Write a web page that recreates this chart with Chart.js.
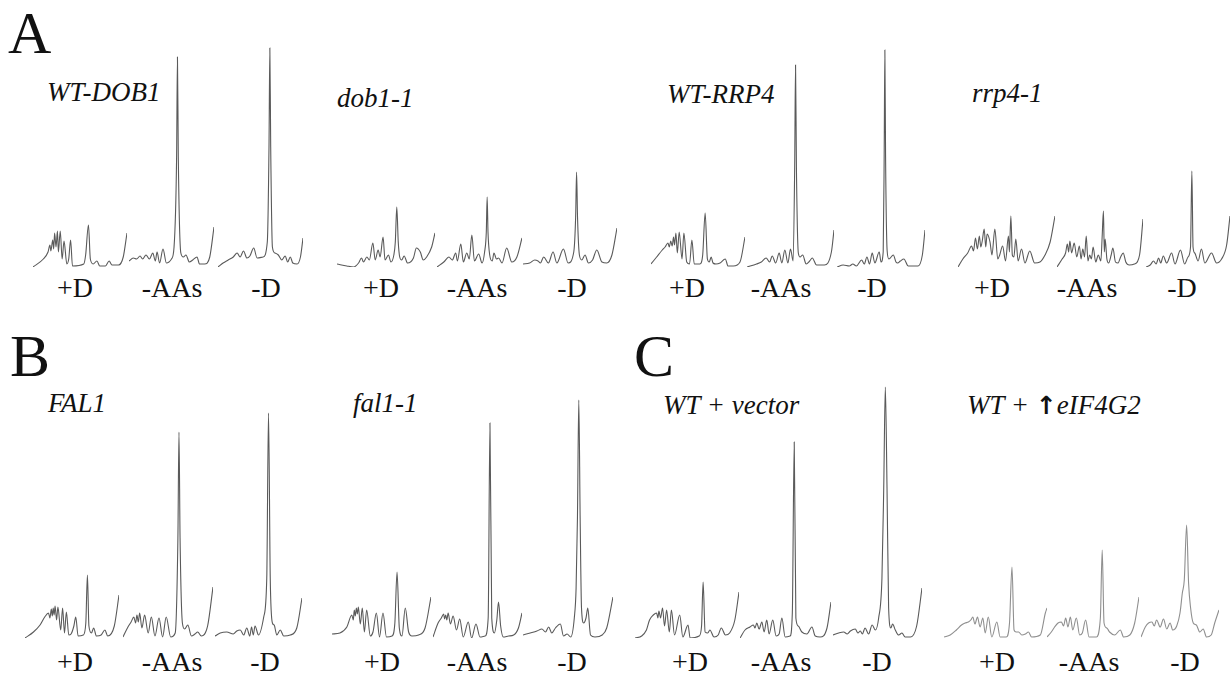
<!DOCTYPE html>
<html><head><meta charset="utf-8">
<script src="https://cdn.jsdelivr.net/npm/chart.js@4.4.1/dist/chart.umd.min.js"></script>
<style>
html,body{margin:0;padding:0;background:#fff;width:1232px;height:675px;overflow:hidden;position:relative;}
canvas{position:absolute;}
.t{position:absolute;line-height:1;white-space:nowrap;color:#111;font-family:"Liberation Serif","Times New Roman",Times,"Nimbus Roman","DejaVu Serif",serif;}
</style></head><body>
<script>
// ---- Polysome profiles: [gradient position (0-100), A254 (arbitrary units)] ----
const conditions = ['+D', '-AAs', '-D'];
const panelNames = ['WT-DOB1', 'dob1-1', 'WT-RRP4', 'rrp4-1', 'FAL1', 'fal1-1', 'WT + vector', 'WT + \u2191eIF4G2'];

// A: WT-DOB1
const wtDob1PlusD = [[0,0],[11,8],[16,15],[18,22],[19,16],[21,27],[22,18],[23,34],[24.5,20],[26,36],[27,15],[29,36],[31,8],[33,26],[36,3],[38,8],[40,27],[42,1],[54,3],[56,12],[59,42],[61,8],[64,3],[68,6],[71,1],[77,1],[81,6],[84,2],[91,2],[96,10],[100,34]];
const wtDob1MinusAA = [[0,6],[5,9],[9,8],[13,11],[16,8],[20,12],[24,8],[28,14],[31,6],[33,15],[36,4],[40,18],[44,4],[50,8],[53,20],[56,110],[57,210],[58,110],[61,14],[64,10],[67,12],[71,5],[75,7],[80,10],[83,3],[89,3],[95,10],[100,40]];
const wtDob1MinusD = [[0,0],[6,4],[12,7],[18,10],[22.5,14],[26,10],[30,16],[34,9],[37.5,11],[42,19],[46,9],[53,10],[58,25],[60,120],[61,219],[62,120],[64,20],[67,14],[71,12],[75,7],[79,11],[82,5],[85,10],[88,4],[93,3],[97,10],[100,29]];
// A: dob1-1
const dob1PlusD = [[0,3],[10,1],[17,0],[22,4],[25,9],[27,5],[30.5,10],[33,7],[36.6,24],[39,7],[42,17],[44,10],[47,30],[49,7],[52.5,12],[55,5],[58,12],[59.5,25],[61,60],[62.5,25],[64,10],[66,7],[68.5,11],[72,4],[78,9],[81,19],[85,15],[88,7],[91.5,10],[96.6,20],[100,34]];
const dob1MinusAA = [[0,0],[8,5],[14,10],[18,7],[22,14],[24,6],[28,23],[31,5],[35,14],[38,8],[41,32],[44,6],[49,13],[53,4],[56,15],[58,35],[59,70],[60,35],[62,12],[65,6],[67,14],[70,8],[72.5,9],[76.5,4],[82,19],[88,5],[94,10],[100,29]];
const dob1MinusD = [[0,3],[7,4],[12.5,7],[16,6],[18.5,4],[22,10],[27,4],[32,15],[36,4],[43,18],[48,4],[54,15],[56,50],[57,95],[58,50],[60,12],[62.5,7],[66,12],[69.6,4],[74,7],[78.5,17],[84,5],[89,4],[94.6,12],[100,39]];
// A: WT-RRP4
const wtRrp4PlusD = [[0,3],[6,10],[12,17],[15,20],[18,24],[19.5,20],[21,26],[22.5,21],[24,30],[25,22],[26.5,34],[28,14],[30,35],[33,8],[35,34],[38,5],[41,3],[43.5,27],[46,3],[52,3],[55,12],[57.6,54],[60,8],[62,5],[64,10],[66,4],[69,3],[73.5,4],[79,8],[82,1],[87.6,1],[94.7,5],[100,30]];
const wtRrp4MinusAA = [[0,0],[11,3],[16.5,5],[22,9],[26,5],[29,11],[33,4],[37,14],[40,4],[43.5,17],[47,4],[50,18],[53,6],[54.8,100],[55.8,202],[56.8,100],[59,14],[61,10],[64,12],[68,3],[72,6],[75,9],[80,2],[89,2],[97,15],[100,37]];
const wtRrp4MinusD = [[0,0],[7,2],[14,1],[18,3],[22,1],[28,7],[31,3],[34,10],[37,3],[40,14],[43,4],[48,15],[50,5],[52.5,15],[53.6,110],[54.4,217],[55.2,110],[57,16],[59,8],[64,12],[67,5],[69,4],[72,6],[76,8],[81,1],[92,1],[97,12],[100,37]];
// A: rrp4-1
const rrp4PlusD = [[0,0],[5,8],[10,14],[14,21],[16,16],[18,29],[20,18],[22,31],[23.5,20],[25,26],[27,38],[28.6,20],[30,33],[33,25],[35,12],[38,38],[41,8],[43,12],[46,21],[49,6],[52,31],[53,15],[54.5,51],[56,12],[57.6,10],[59.6,28],[62,6],[65.5,18],[69,4],[74,16],[79,4],[84.5,5],[89.7,12],[95,25],[100,51]];
const rrp4MinusAA = [[0,0],[6,8],[10,14],[12,23],[13.5,15],[15,26],[17,14],[20,24],[23,10],[26,21],[28,8],[30,18],[32,10],[34,31],[36,6],[38,12],[40,8],[42,20],[45,5],[48,12],[51,6],[52.5,30],[54,56],[55,15],[56,28],[58,8],[60,4],[63,12],[65,19],[68,5],[71,4],[74,10],[77,14],[80,5],[84,2],[90,3],[96,12],[100,48]];
const rrp4MinusD = [[0,0],[5,2],[9,6],[12,3],[15,9],[17.5,4],[20.6,11],[24.6,4],[30.5,14],[34.5,3],[41,17],[46,3],[50,10],[53,20],[54.6,96],[56,20],[58,14],[62,6],[66,18],[70,4],[78,14],[84,4],[90,8],[96,22],[100,51]];
// B: FAL1
const fal1PlusD = [[0,0],[9,6],[16,13],[21,21],[25,25],[26.5,20],[28,29],[29,22],[30,30],[31,23],[32,32],[33.6,18],[35,31],[38,8],[40,30],[42,5],[44,26],[46.6,3],[49,4],[52,12],[54,21],[56.5,2],[62,3],[64.7,15],[66.4,63],[68,12],[70.7,5],[73,10],[76,2],[81,3],[85,8],[88,2],[95,12],[100,43]];
const fal1MinusAA = [[0,1],[5.5,11],[9,16],[12,21],[14,15],[15.5,23],[17,16],[18.5,25],[21,10],[24,23],[28,5],[31.5,21],[35.5,2],[40,20],[44,1],[48,21],[53,1],[58,5],[61,100],[62.2,206],[63.4,100],[66,15],[68.5,9],[72,13],[76,2],[80,4],[83,6],[87,2],[94,12],[100,51]];
const fal1MinusD = [[0,2],[6,5],[13.5,6],[21,4],[25,7],[29,8],[33,3],[36.5,10],[40,2],[42,11],[44,3],[46,12],[50,3],[56,21],[59.5,60],[61.5,225],[63.5,60],[66,15],[68,13],[71,3],[75,8],[79,2],[86.5,3],[94,10],[100,40]];
// B: fal1-1
const fal1mPlusD = [[0,4],[8,5],[15,11],[20,23],[21.5,18],[22.5,28],[23.5,22],[24.6,30],[25.6,24],[26.6,31],[28.6,14],[30.6,30],[32.7,6],[35,28],[38.7,2],[41.4,6],[44.8,25],[48,1],[51.5,25],[55,1],[60.6,2],[63.5,15],[65.7,66],[68,10],[70.7,2],[74,30],[77.4,6],[80.8,2],[87.5,3],[94,10],[100,41]];
const fal1mMinusAA = [[0,1],[5.7,15],[9.4,20],[12,24],[13,19],[14.3,23],[15.5,18],[17,25],[19.6,14],[22.6,22],[26.4,8],[30,19],[34,1],[39.6,16],[43.4,0],[48.3,14],[52.8,1],[58.5,2],[62,20],[64,215],[66,20],[69,5],[71.7,18],[73.6,36],[76,12],[79,1],[85,2],[90.6,3],[96,10],[100,25]];
const fal1mMinusD = [[0,3],[8,5],[15.5,7],[21,9],[25,6],[28.5,11],[32,5],[36,10],[41.5,14],[45,2],[49,4],[53,1],[57,20],[59,50],[60.5,120],[62,238],[63.5,120],[65,30],[67.4,15],[70,20],[72,30],[75,3],[80,1],[88,3],[93,10],[100,41]];
// C: WT + vector
const vecPlusD = [[0,0],[6.4,2],[11,8],[14,18],[17.6,23],[20.8,25],[22,20],[23,27],[24.6,20],[26.5,30],[28.4,12],[30.4,28],[33,6],[35,28],[38,3],[43,23],[46,1],[51,13],[53,0],[61.7,2],[64,12],[65.5,56],[67.4,6],[70,5],[72,8],[76,1],[80,3],[83,10],[87,3],[91,5],[96,18],[100,46]];
const vecMinusAA = [[0,0],[5.5,8],[11,11],[14.7,13],[16.5,10],[18.4,15],[21,9],[24,16],[26.5,6],[29.4,18],[32,4],[36,18],[39.7,2],[43,4],[46,20],[49.6,1],[55,2],[57.5,25],[59.6,196],[61.4,20],[64,12],[68,6],[73.5,4],[79,11],[82.7,2],[88,1],[95.6,10],[100,36]];
const vecMinusD = [[0,3],[6.4,5],[12,6],[16,4],[19.5,7],[25,9],[28,5],[30.7,7],[33,4],[36,10],[40,4],[44,13],[47.6,8],[51.3,20],[55,60],[57,150],[58.8,251],[60.7,150],[62.5,30],[65,10],[67,14],[70,8],[73.8,3],[77.5,5],[81,1],[87,1],[94,12],[100,50]];
// C: WT + eIF4G2 overexpression
const eif4gPlusD = [[0,1],[6,3],[12,8],[17,13],[20.5,15],[23.7,16],[26,18],[28,21],[30,14],[32.5,21],[35,11],[37.7,20],[40,5],[43,21],[46.4,1],[51.3,16],[54.5,1],[60.4,1],[63.6,15],[66,71],[68,8],[70,6],[72.4,6],[75.6,3],[79,4],[82,6],[85,1],[93.5,3],[98.4,25],[100,30]];
const eif4gMinusAA = [[0,1],[4.7,6],[8.3,11],[12,15],[15.6,16],[18,12],[20.3,20],[22.8,11],[25.4,21],[28,8],[31.9,20],[35.5,3],[38.4,5],[42,18],[45.7,1],[53.6,1],[58,20],[60,88],[62,15],[65,10],[68,6],[73.6,3],[79.7,8],[83.3,1],[90,3],[95.3,15],[100,41]];
const eif4gMinusD = [[0,1],[5.5,11],[9.7,15],[14,16],[17,12],[20,18],[24.6,11],[28.8,19],[33,9],[37.3,15],[40.7,8],[45.8,12],[50,25],[53,45],[55.5,58],[58.5,113],[61,55],[63.6,30],[67,15],[71,13],[75.4,6],[79.7,9],[84,1],[90,3],[94.5,15],[100,28]];

// ---- layout (positions / styles) ----
const rows = { 1: { base: 267, ymax: 230, labelBase: 297, titleSize: 27 }, 2: { base: 638, ymax: 262, labelBase: 671, titleSize: 27 } };
const panels = [
  { name: panelNames[0], row: 1, title: [47, 102], traces: [wtDob1PlusD, wtDob1MinusAA, wtDob1MinusD], spans: [[33,127],[129,214],[218,303]], labels: [75,172,266], color: '#5a5a5a' },
  { name: panelNames[1], row: 1, title: [337, 108], traces: [dob1PlusD, dob1MinusAA, dob1MinusD], spans: [[337,435],[437,522],[523,617]], labels: [381,477,572], color: '#5a5a5a' },
  { name: panelNames[2], row: 1, title: [667, 104], traces: [wtRrp4PlusD, wtRrp4MinusAA, wtRrp4MinusD], spans: [[651,745],[747,834],[837,925]], labels: [687,781,872], color: '#5a5a5a' },
  { name: panelNames[3], row: 1, title: [972, 103], traces: [rrp4PlusD, rrp4MinusAA, rrp4MinusD], spans: [[958,1055],[1057,1143],[1146,1230]], labels: [992,1087,1182], color: '#5a5a5a' },
  { name: panelNames[4], row: 2, title: [48, 413], traces: [fal1PlusD, fal1MinusAA, fal1MinusD], spans: [[25,119],[123,213],[215,302]], labels: [75,172,265], color: '#5a5a5a' },
  { name: panelNames[5], row: 2, title: [353, 413], traces: [fal1mPlusD, fal1mMinusAA, fal1mMinusD], spans: [[332,431],[433,522],[523,613]], labels: [382,477,572], color: '#5a5a5a' },
  { name: panelNames[6], row: 2, title: [663, 415], traces: [vecPlusD, vecMinusAA, vecMinusD], spans: [[635,739],[740,831],[833,922]], labels: [690,781,877], color: '#5a5a5a' },
  { name: panelNames[7], row: 2, title: [967, 415], traces: [eif4gPlusD, eif4gMinusAA, eif4gMinusD], spans: [[944,1047],[1047,1139],[1141,1219]], labels: [997,1089,1185], color: '#8f8f8f' }
];
const letters = [['A', 8, 53], ['B', 10, 376], ['C', 634, 376]];

function addText(str, x, baseline, size, opts) {
  const d = document.createElement('div');
  d.className = 't';
  d.textContent = str;
  d.style.fontSize = size + 'px';
  d.style.top = (baseline - 0.8375 * size) + 'px';
  if (opts && opts.italic) d.style.fontStyle = 'italic';
  if (opts && opts.center) { d.style.left = x + 'px'; d.style.transform = 'translateX(-50%)'; }
  else d.style.left = x + 'px';
  document.body.appendChild(d);
  return d;
}

letters.forEach(l => addText(l[0], l[1], l[2], 60));

panels.forEach(p => {
  const r = rows[p.row];
  if (p.name.indexOf('\u2191') >= 0) {
    const d = addText('', p.title[0], p.title[1], r.titleSize, { italic: true });
    d.innerHTML = 'WT + <span style="font-style:normal;font-weight:bold;font-family:\'DejaVu Sans\';font-size:25px">\u2191</span>eIF4G2';
  } else {
    addText(p.name, p.title[0], p.title[1], r.titleSize, { italic: true });
  }
  p.traces.forEach((tr, i) => {
    const [x0, x1] = p.spans[i];
    const c = document.createElement('canvas');
    const w = x1 - x0, h = r.ymax;
    c.width = w; c.height = h;
    c.style.left = x0 + 'px';
    c.style.top = (r.base - r.ymax) + 'px';
    c.style.width = w + 'px'; c.style.height = h + 'px';
    document.body.appendChild(c);
    new Chart(c, {
      type: 'line',
      data: { datasets: [{ label: p.name + ' ' + conditions[i], data: tr.map(([x, y]) => ({ x, y })), borderColor: p.color, borderWidth: 1.1, pointRadius: 0, fill: false, cubicInterpolationMode: 'monotone', clip: false }] },
      options: {
        responsive: false, animation: false, devicePixelRatio: 1,
        layout: { padding: 0 },
        plugins: { legend: { display: false }, tooltip: { enabled: false } },
        scales: { x: { type: 'linear', min: 0, max: 100, display: false }, y: { min: 0, max: r.ymax, display: false } }
      }
    });
    addText(conditions[i], p.labels[i], r.labelBase, 28, { center: true });
  });
});
</script>
</body></html>
